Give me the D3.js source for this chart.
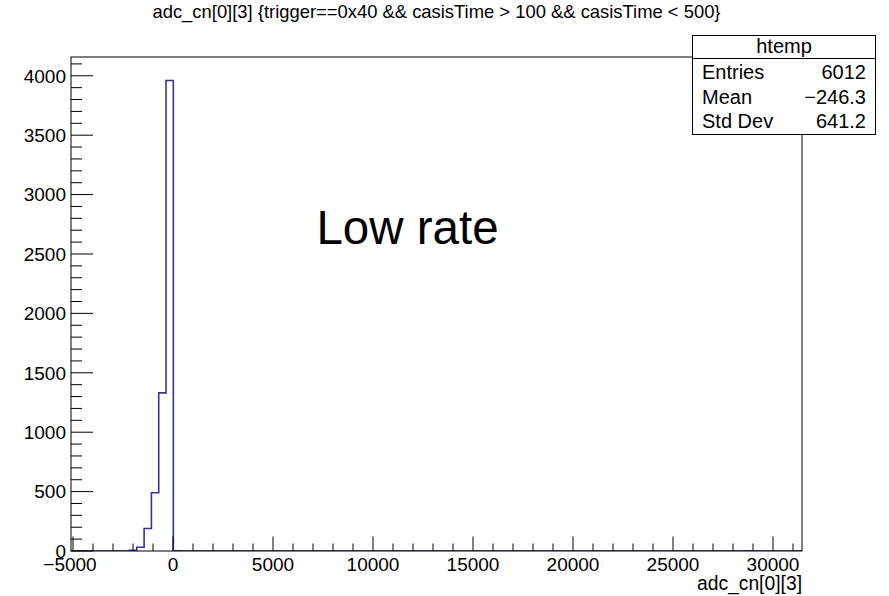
<!DOCTYPE html>
<html>
<head>
<meta charset="utf-8">
<script src="https://cdn.jsdelivr.net/npm/d3@7"></script>
<style>
  html, body { margin: 0; padding: 0; background: #fff; }
  svg { display: block; font-family: "Liberation Sans", Arial, Helvetica, sans-serif; }
</style>
</head>
<body>
<svg id="chart" width="889" height="596"></svg>
<script>
// ---- data ----
const histName = "htemp";
const title = "adc_cn[0][3] {trigger==0x40 && casisTime > 100 && casisTime < 500}";
const xTitle = "adc_cn[0][3]";
const xMin = -5100, xMax = 31450, nBins = 100;
// non-empty bins: index of bin and its count
const binIndex = [8, 9, 10, 11, 12, 13, 14, 92];
const binCount = [5, 32, 190, 490, 1331, 3960, 2, 2];
const xMajorTicks = [-5000, 0, 5000, 10000, 15000, 20000, 25000, 30000];
const yMajorTicks = [0, 500, 1000, 1500, 2000, 2500, 3000, 3500, 4000];
const statLabels = ["Entries", "Mean", "Std Dev"];
const statValues = ["6012", "\u2212246.3", "641.2"];
const annotation = "Low rate";

// ---- layout ----
const svg = d3.select("#chart");
const frame = {left: 71, right: 802, top: 57, bottom: 551};
const counts = new Array(nBins).fill(0);
binIndex.forEach((b, i) => counts[b] = binCount[i]);
const binW = (xMax - xMin) / nBins;
const yMax = d3.max(counts) * 1.05;

const x = d3.scaleLinear().domain([xMin, xMax]).range([frame.left, frame.right]);
const y = d3.scaleLinear().domain([0, yMax]).range([frame.bottom, frame.top]);

svg.append("rect").attr("width", 889).attr("height", 596).attr("fill", "#fff");

svg.append("clipPath").attr("id", "clip").append("rect")
  .attr("x", frame.left).attr("y", frame.top)
  .attr("width", frame.right - frame.left).attr("height", frame.bottom - frame.top);

// histogram step outline
const pts = [];
counts.forEach((c, i) => {
  pts.push([xMin + i * binW, c]);
  pts.push([xMin + (i + 1) * binW, c]);
});
const line = d3.line().x(d => x(d[0])).y(d => y(d[1]));
svg.append("path")
  .attr("d", line(pts))
  .attr("fill", "none")
  .attr("stroke", "#333399")
  .attr("stroke-width", 1.6)
  .attr("clip-path", "url(#clip)");

// frame
svg.append("rect")
  .attr("x", frame.left).attr("y", frame.top)
  .attr("width", frame.right - frame.left).attr("height", frame.bottom - frame.top)
  .attr("fill", "none").attr("stroke", "#000").attr("stroke-width", 1);

// x axis ticks
const xMinor = d3.range(-5000, xMax, 1000);
const ax = svg.append("g").attr("stroke", "#000").attr("stroke-width", 1);
xMinor.forEach(v => {
  const major = xMajorTicks.includes(v);
  ax.append("line")
    .attr("x1", x(v)).attr("x2", x(v))
    .attr("y1", frame.bottom).attr("y2", frame.bottom - (major ? 14.5 : 7.5));
});
svg.append("g").selectAll("text").data(xMajorTicks).join("text")
  .attr("x", d => x(d) + (d < 0 ? -3 : 0)).attr("y", 571)
  .attr("text-anchor", "middle").attr("font-size", 19)
  .text(d => d < 0 ? "\u2212" + Math.abs(d) : String(d));

// y axis ticks
const yMinor = d3.range(0, yMax, 100);
yMinor.forEach(v => {
  const major = yMajorTicks.includes(v);
  ax.append("line")
    .attr("x1", frame.left).attr("x2", frame.left + (major ? 22 : 11))
    .attr("y1", y(v)).attr("y2", y(v));
});
svg.append("g").selectAll("text").data(yMajorTicks).join("text")
  .attr("x", 66).attr("y", d => y(d) + 6.8)
  .attr("text-anchor", "end").attr("font-size", 19)
  .text(d => String(d));

// axis title
svg.append("text").attr("x", frame.right).attr("y", 590)
  .attr("text-anchor", "end").attr("font-size", 19.3)
  .text(xTitle);

// main title
svg.append("text").attr("x", 436.5).attr("y", 18)
  .attr("text-anchor", "middle").attr("font-size", 18.4)
  .text(title);

// annotation
svg.append("text").attr("x", 407.5).attr("y", 244)
  .attr("text-anchor", "middle").attr("font-size", 47.5)
  .text(annotation);

// stats box
const box = {left: 692.5, right: 875.5, top: 35.5, head: 58.5, bottom: 134.5};
svg.append("rect")
  .attr("x", box.left).attr("y", box.top)
  .attr("width", box.right - box.left).attr("height", box.bottom - box.top)
  .attr("fill", "#fff").attr("stroke", "#000").attr("stroke-width", 1);
svg.append("line")
  .attr("x1", box.left).attr("x2", box.right)
  .attr("y1", box.head).attr("y2", box.head)
  .attr("stroke", "#000").attr("stroke-width", 1);
svg.append("text").attr("x", (box.left + box.right) / 2).attr("y", 53)
  .attr("text-anchor", "middle").attr("font-size", 20).text(histName);
const rowY = [79, 103.5, 127.5];
statLabels.forEach((l, i) => {
  svg.append("text").attr("x", 702).attr("y", rowY[i])
    .attr("font-size", 20).text(l);
  svg.append("text").attr("x", 866).attr("y", rowY[i])
    .attr("text-anchor", "end").attr("font-size", 20).text(statValues[i]);
});
</script>
</body>
</html>
